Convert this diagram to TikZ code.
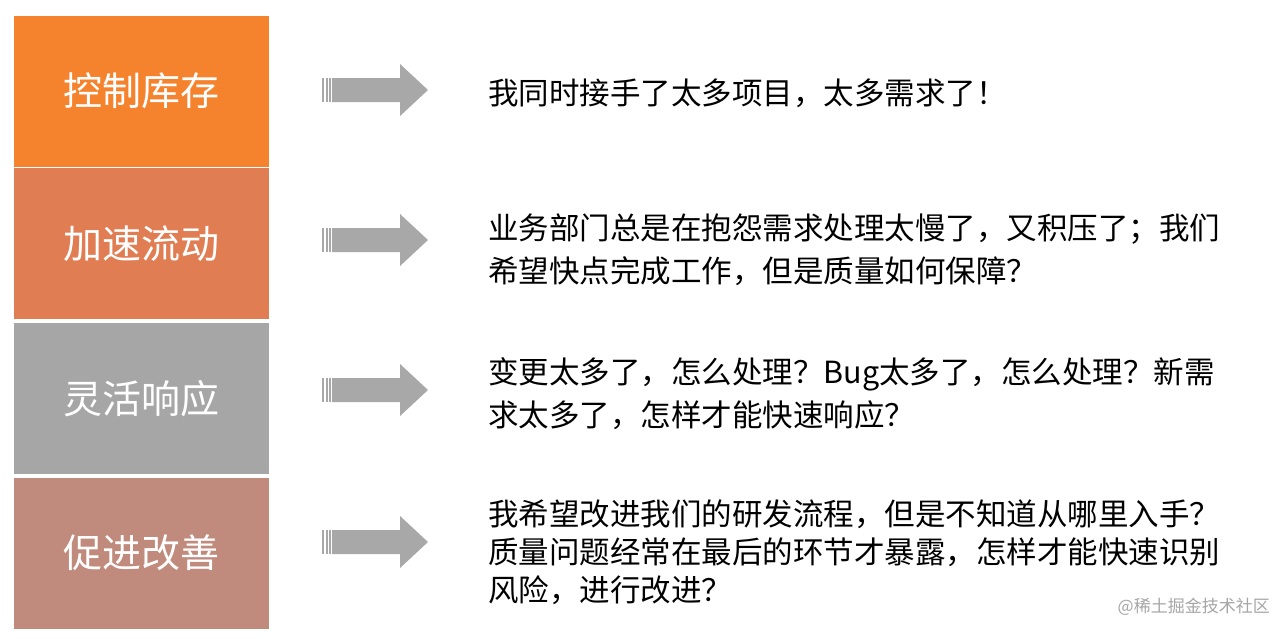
\documentclass[tikz,border=0pt]{standalone}
\usepackage{fontspec}
\newfontfamily\cjk{Noto Sans CJK SC}
\definecolor{c1}{HTML}{F5822C}
\definecolor{c2}{HTML}{E07D52}
\definecolor{c3}{HTML}{A6A6A6}
\definecolor{c4}{HTML}{C08A7C}
\definecolor{arr}{HTML}{A8A8A8}
\begin{document}
\begin{tikzpicture}[x=1pt,y=-1pt,
  box/.style={fill=#1,draw=none,minimum width=255pt,minimum height=151pt,inner sep=0pt,text=white,font=\cjk\fontsize{39}{44}\selectfont},
  desc/.style={anchor=west,align=left,inner sep=0pt,font=\cjk\fontsize{30.5}{43}\selectfont}]
\useasboundingbox (0,0) rectangle (1288,638);
\fill[white] (0,0) rectangle (1288,638);
\node[box=c1] (b1) at (141.5,91) {控制库存};
\node[box=c2] (b2) at (141.5,243.5) {加速流动};
\node[box=c3] (b3) at (141.5,398.5) {灵活响应};
\node[box=c4] (b4) at (141.5,553) {促进改善};
\foreach \y/\n in {90/1,240/2,390/3,542/4}{
  \coordinate (a\n) at (322,\y);
  \fill[arr] (a\n) ++(10,-12) -- ++(68,0) -- ++(0,-14) -- ++(28,26) -- ++(-28,26) -- ++(0,-14) -- ++(-68,0) -- cycle;
  \foreach \dx in {0,4,7}{\fill[arr] (a\n) ++(\dx,-12) rectangle ++(1.6,24);}
}
\node[desc] (t1) at (488,93) {我同时接手了太多项目，太多需求了！};
\node[desc] (t2) at (488,250) {业务部门总是在抱怨需求处理太慢了，又积压了；我们\\希望快点完成工作，但是质量如何保障？};
\node[desc] (t3) at (488,394) {变更太多了，怎么处理？Bug太多了，怎么处理？新需\\求太多了，怎样才能快速响应？};
\node[desc,font=\cjk\fontsize{30.5}{38}\selectfont] (t4) at (488,552) {我希望改进我们的研发流程，但是不知道从哪里入手？\\质量问题经常在最后的环节才暴露，怎样才能快速识别\\风险，进行改进？};
\node[anchor=east,inner sep=0pt,text=gray!70,font=\cjk\fontsize{17}{20}\selectfont] (wm) at (1270,607) {@稀土掘金技术社区};
\end{tikzpicture}
\end{document}
